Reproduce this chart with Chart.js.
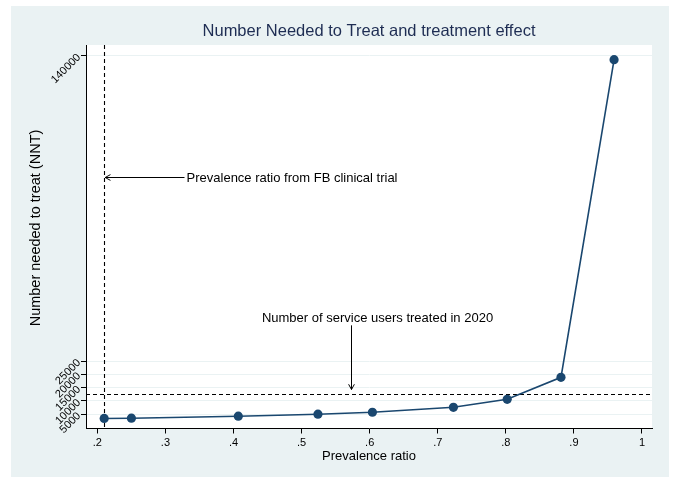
<!DOCTYPE html>
<html>
<head>
<meta charset="utf-8">
<script src="https://cdn.jsdelivr.net/npm/chart.js@4.4.0/dist/chart.umd.min.js"></script>
<style>
  html, body { margin: 0; padding: 0; background: #ffffff; }
  canvas { display: block; }
</style>
</head>
<body>
<canvas id="c" width="675" height="481"></canvas>
<script>
// ---- Data ----
const prevalenceRatio = [0.21, 0.25, 0.407, 0.524, 0.604, 0.723, 0.802, 0.881, 0.959];
const nnt = [3400, 3500, 4250, 5000, 5750, 7600, 10600, 18900, 138500];
const xTickValues = [0.2, 0.3, 0.4, 0.5, 0.6, 0.7, 0.8, 0.9, 1.0];
const xTickLabels = ['.2', '.3', '.4', '.5', '.6', '.7', '.8', '.9', '1'];
const yTickValues = [5000, 10000, 15000, 20000, 25000, 140000];
const trialPrevalenceRatio = 0.21;      // vertical reference line
const serviceUsers2020 = 12800;          // horizontal reference line

const titleText = 'Number Needed to Treat and treatment effect';
const xTitle = 'Prevalence ratio';
const yTitle = 'Number needed to treat (NNT)';
const note1Text = 'Prevalence ratio from FB clinical trial';
const note2Text = 'Number of service users treated in 2020';

// annotation anchor points (data coordinates)
const note1 = { textX: 0.331, y: 94500, arrowFromX: 0.328, arrowToX: 0.2115 };
const note2 = { textX: 0.6115, textY: 41250, arrowX: 0.572, arrowFromY: 38470, arrowToY: 14300 };

const FONT = '"Liberation Sans", Arial, Helvetica, sans-serif';
const NAVY = '#1a476f';
const PANEL = '#eaf2f3';

function arrowHead(ctx, x, y, angle) {
  const len = 6, spread = 0.5;
  ctx.beginPath();
  ctx.moveTo(x + len * Math.cos(angle - spread), y + len * Math.sin(angle - spread));
  ctx.lineTo(x, y);
  ctx.lineTo(x + len * Math.cos(angle + spread), y + len * Math.sin(angle + spread));
  ctx.stroke();
}

const decor = {
  id: 'decor',
  beforeDraw(chart) {
    const { ctx, chartArea: a } = chart;
    ctx.save();
    ctx.fillStyle = '#ffffff';
    ctx.fillRect(0, 0, chart.width, chart.height);
    ctx.fillStyle = PANEL;
    ctx.fillRect(11, 6, 658, 471);
    ctx.fillStyle = '#ffffff';
    ctx.fillRect(a.left, a.top, a.right - a.left, a.bottom - a.top);
    ctx.restore();
  },
  beforeDatasetsDraw(chart) {
    const { ctx, chartArea: a, scales: { x, y } } = chart;
    ctx.save();
    ctx.strokeStyle = '#000';
    ctx.lineWidth = 1.1;
    ctx.setLineDash([4, 3]);
    const vx = Math.round(x.getPixelForValue(trialPrevalenceRatio)) + 0.5;
    ctx.beginPath(); ctx.moveTo(vx, a.top); ctx.lineTo(vx, a.bottom); ctx.stroke();
    const hy = Math.round(y.getPixelForValue(serviceUsers2020)) + 0.5;
    ctx.beginPath(); ctx.moveTo(a.left, hy); ctx.lineTo(a.right, hy); ctx.stroke();
    ctx.setLineDash([]);

    // annotation 1
    ctx.lineWidth = 1;
    const y1 = Math.round(y.getPixelForValue(note1.y)) + 0.5;
    const ax0 = x.getPixelForValue(note1.arrowFromX), ax1 = x.getPixelForValue(note1.arrowToX);
    ctx.beginPath(); ctx.moveTo(ax0, y1); ctx.lineTo(ax1, y1); ctx.stroke();
    arrowHead(ctx, ax1, y1, 0);
    ctx.fillStyle = '#000';
    ctx.font = '13px ' + FONT;
    ctx.textAlign = 'left'; ctx.textBaseline = 'middle';
    ctx.fillText(note1Text, x.getPixelForValue(note1.textX), y1 + 1);

    // annotation 2
    const x2 = Math.round(x.getPixelForValue(note2.arrowX)) + 0.5;
    const by0 = y.getPixelForValue(note2.arrowFromY), by1 = y.getPixelForValue(note2.arrowToY);
    ctx.beginPath(); ctx.moveTo(x2, by0); ctx.lineTo(x2, by1); ctx.stroke();
    arrowHead(ctx, x2, by1, -Math.PI / 2);
    ctx.textAlign = 'center';
    ctx.fillText(note2Text, x.getPixelForValue(note2.textX), y.getPixelForValue(note2.textY));
    ctx.restore();
  },
  afterDraw(chart) {
    const { ctx, chartArea: a } = chart;
    ctx.save();
    ctx.fillStyle = '#1e2d53';
    ctx.font = '16.5px ' + FONT;
    ctx.textAlign = 'center'; ctx.textBaseline = 'middle';
    ctx.fillText(titleText, (a.left + a.right) / 2, 31);
    ctx.fillStyle = '#000';
    ctx.font = '13px ' + FONT;
    ctx.fillText(xTitle, (a.left + a.right) / 2, 456);
    ctx.font = '14.5px ' + FONT;
    ctx.translate(36, 228);
    ctx.rotate(-Math.PI / 2);
    ctx.fillText(yTitle, 0, 0);
    ctx.restore();
  }
};

new Chart(document.getElementById('c'), {
  type: 'line',
  data: {
    datasets: [{
      data: prevalenceRatio.map((v, i) => ({ x: v, y: nnt[i] })),
      borderColor: NAVY,
      backgroundColor: NAVY,
      borderWidth: 1.6,
      pointRadius: 4.6,
      pointBorderWidth: 0,
      pointBackgroundColor: NAVY,
      tension: 0,
      fill: false
    }]
  },
  options: {
    responsive: false,
    animation: false,
    devicePixelRatio: 1,
    layout: { padding: { left: 0, right: 23, top: 45, bottom: 0 } },
    plugins: { legend: { display: false }, title: { display: false }, tooltip: { enabled: false } },
    scales: {
      x: {
        type: 'linear',
        min: 0.1833,
        max: 1.0147,
        afterFit(s) { s.height = 52.5; },
        afterBuildTicks(s) { s.ticks = xTickValues.map(v => ({ value: v })); },
        grid: { drawOnChartArea: false, drawTicks: true, tickLength: 5, tickColor: '#000', tickWidth: 1 },
        border: { display: true, color: '#000', width: 1 },
        ticks: {
          autoSkip: false, maxRotation: 0, minRotation: 0, padding: 3,
          color: '#000', font: { family: FONT, size: 11 },
          callback(v) { const i = xTickValues.findIndex(t => Math.abs(t - v) < 1e-9); return i >= 0 ? xTickLabels[i] : ''; }
        }
      },
      y: {
        type: 'linear',
        min: -377,
        max: 144024,
        afterFit(s) { s.width = 86; },
        afterBuildTicks(s) { s.ticks = yTickValues.map(v => ({ value: v })); },
        grid: { drawOnChartArea: true, color: PANEL, lineWidth: 1, drawTicks: true, tickLength: 5, tickColor: '#000', tickWidth: 1 },
        border: { display: true, color: '#000', width: 1 },
        ticks: {
          autoSkip: false, minRotation: 45, maxRotation: 45, padding: 2,
          color: '#000', font: { family: FONT, size: 11 },
          callback(v) { return String(v); }
        }
      }
    }
  },
  plugins: [decor]
});
</script>
</body>
</html>
